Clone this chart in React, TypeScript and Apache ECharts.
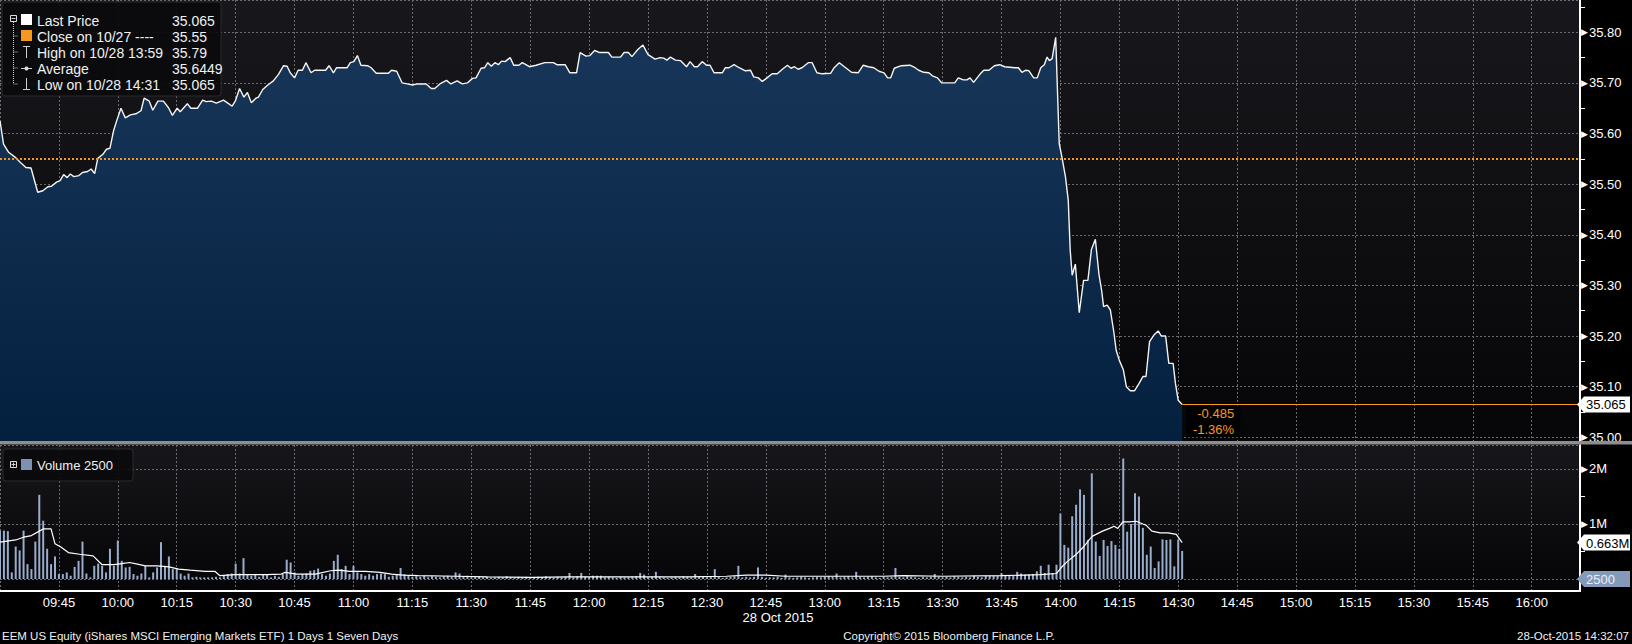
import React, { useEffect, useRef } from "react";
import * as echarts from "echarts";

// ---------- data (minutes after 09:30) ----------
const priceSeries: [number, number][] = [
  [0,35.625],[0.9,35.579],[2.2,35.563],[3.9,35.553],[5.2,35.543],[6.6,35.533],[7.9,35.532],[9.6,35.484],[10.9,35.487],[12.2,35.495],
  [13.1,35.496],[14.4,35.504],[15.3,35.507],[16.2,35.519],[17.1,35.513],[17.9,35.52],[18.8,35.515],[20.1,35.517],[21,35.523],[22.3,35.525],
  [23.2,35.53],[24.1,35.521],[24.9,35.551],[26.2,35.559],[27.1,35.569],[28,35.571],[28.9,35.605],[29.7,35.625],[30.8,35.65],[31.9,35.631],
  [33.2,35.637],[34.6,35.639],[35.9,35.645],[36.7,35.67],[38,35.664],[38.9,35.646],[40.2,35.664],[41.6,35.664],[42.9,35.651],[43.9,35.636],
  [45.1,35.65],[45.9,35.643],[47.7,35.659],[48.6,35.65],[50.3,35.65],[51.6,35.666],[52.5,35.663],[53.8,35.664],[55.1,35.66],[56.9,35.666],
  [58.2,35.659],[59.1,35.654],[59.9,35.664],[61,35.689],[62.1,35.672],[63,35.681],[64,35.661],[65.2,35.67],[65.8,35.672],[66.9,35.687],
  [68.2,35.696],[69.6,35.704],[70.9,35.717],[72.2,35.734],[73.1,35.733],[73.9,35.72],[75,35.71],[75.9,35.725],[77,35.725],[77.9,35.74],
  [79.2,35.72],[80.1,35.725],[81.8,35.725],[82.9,35.725],[83.8,35.734],[84.9,35.72],[85.7,35.73],[87.5,35.73],[88.4,35.73],[89.2,35.74],
  [90.1,35.742],[91,35.754],[91.9,35.735],[93.6,35.734],[94.5,35.73],[95.8,35.719],[97.1,35.719],[98.9,35.719],[99.7,35.725],[101,35.723],
  [102.4,35.7],[103.7,35.698],[105,35.696],[106.3,35.698],[108.5,35.698],[109.8,35.689],[110.7,35.689],[112,35.698],[113.7,35.705],[114.8,35.698],
  [116.4,35.704],[117.7,35.698],[119,35.7],[120.3,35.709],[121.2,35.71],[122.5,35.729],[123.4,35.73],[124.2,35.74],[125.1,35.733],[126,35.74],
  [126.9,35.736],[127.7,35.743],[128.6,35.742],[129.9,35.75],[130.8,35.735],[132.1,35.735],[133,35.74],[134.8,35.732],[136.5,35.735],[138.7,35.74],
  [140.9,35.74],[141.8,35.736],[143.9,35.736],[145.1,35.72],[146.8,35.72],[147.7,35.76],[149.2,35.753],[150.2,35.754],[151.4,35.764],[152.7,35.76],
  [154.9,35.76],[155.8,35.751],[158,35.751],[158.9,35.76],[160,35.76],[160.9,35.752],[162.4,35.766],[163.7,35.775],[165,35.756],[166.8,35.747],
  [168.1,35.75],[169,35.749],[169.8,35.745],[170.7,35.751],[172,35.745],[173.3,35.744],[174.8,35.732],[175.7,35.742],[176.8,35.732],[177.6,35.732],
  [178.8,35.742],[179.9,35.735],[180.8,35.735],[181.8,35.72],[183.9,35.72],[184.7,35.73],[185.6,35.73],[186.9,35.736],[188.2,35.73],[189.8,35.724],
  [191.1,35.725],[191.9,35.712],[193.1,35.71],[194.1,35.703],[195.3,35.71],[196.6,35.718],[197.9,35.718],[199.2,35.727],[200.5,35.735],[201.4,35.729],
  [202.3,35.732],[203.2,35.727],[204.2,35.73],[205.8,35.74],[206.8,35.74],[208,35.72],[209.3,35.718],[211.5,35.719],[212.4,35.73],[213.7,35.74],
  [215,35.732],[216.8,35.721],[218.5,35.72],[219.8,35.735],[221.1,35.732],[222.5,35.73],[223.8,35.723],[225.1,35.72],[226,35.71],[226.8,35.71],
  [227.7,35.729],[229.5,35.734],[231.7,35.735],[233,35.73],[233.9,35.725],[235.2,35.721],[236.5,35.72],[237.4,35.714],[238.7,35.71],[239.8,35.7],
  [243.1,35.7],[244,35.71],[245.3,35.706],[246.2,35.706],[247,35.71],[247.9,35.701],[249.6,35.718],[250.5,35.725],[251.8,35.725],[253.2,35.734],
  [254.5,35.736],[255.8,35.732],[258.4,35.73],[259.3,35.73],[260.2,35.721],[261.1,35.725],[262,35.724],[263.2,35.71],[264.1,35.71],[265,35.73],
  [265.9,35.736],[266.6,35.751],[267.2,35.744],[267.9,35.748],[268.8,35.79],[269.7,35.58],[270.4,35.553],[271.3,35.514],[272,35.468],[272.5,35.369],
  [273,35.32],[273.8,35.342],[274.8,35.246],[275.9,35.31],[277,35.31],[277.9,35.371],[278.9,35.391],[279.8,35.323],[280.5,35.29],[281,35.258],
  [281.9,35.261],[282.7,35.252],[283.6,35.208],[284.2,35.172],[285,35.152],[286,35.134],[286.8,35.1],[287.8,35.092],[288.9,35.092],[290,35.106],
  [291,35.12],[291.8,35.12],[292.7,35.189],[293.8,35.202],[294.9,35.21],[295.7,35.2],[296.8,35.2],[297.6,35.146],[298.7,35.146],[299.3,35.106],
  [300,35.073],[301,35.065],
];

// volume per minute, millions (index = minute after 09:30)
const volumeM: number[] = [
  0.88,0.88,0.87,0.12,0.59,0.52,0.88,0.27,0.18,0.68,
  1.53,1.06,0.55,0.27,0.41,0.09,0.09,0.12,0.06,0.22,
  0.33,0.68,0.10,0.03,0.24,0.28,0.24,0.12,0.55,0.24,
  0.70,0.33,0.21,0.22,0.09,0.06,0.10,0.24,0.03,0.12,
  0.21,0.67,0.24,0.41,0.18,0.18,0.10,0.06,0.10,0.03,
  0.04,0.03,0.03,0.03,0.03,0.04,0.03,0.06,0.09,0.10,
  0.28,0.10,0.38,0.09,0.06,0.08,0.04,0.09,0.08,0.03,
  0.06,0.04,0.09,0.35,0.30,0.12,0.06,0.09,0.10,0.15,
  0.16,0.19,0.09,0.06,0.10,0.33,0.44,0.18,0.24,0.09,
  0.24,0.12,0.09,0.06,0.09,0.06,0.09,0.10,0.09,0.04,
  0.06,0.08,0.20,0.09,0.06,0.04,0.05,0.04,0.06,0.03,
  0.05,0.04,0.03,0.05,0.06,0.04,0.12,0.10,0.05,0.06,
  0.03,0.04,0.05,0.03,0.04,0.02,0.03,0.04,0.03,0.05,
  0.03,0.02,0.04,0.03,0.04,0.03,0.02,0.04,0.03,0.05,
  0.03,0.02,0.04,0.03,0.04,0.11,0.03,0.05,0.11,0.04,
  0.03,0.06,0.06,0.06,0.03,0.04,0.03,0.02,0.04,0.03,
  0.03,0.04,0.05,0.11,0.08,0.03,0.04,0.13,0.04,0.03,
  0.02,0.03,0.04,0.03,0.05,0.04,0.03,0.09,0.05,0.04,
  0.03,0.04,0.18,0.04,0.02,0.03,0.04,0.05,0.24,0.03,
  0.04,0.03,0.04,0.21,0.04,0.02,0.03,0.03,0.04,0.02,
  0.08,0.03,0.02,0.03,0.04,0.03,0.02,0.03,0.04,0.03,
  0.04,0.05,0.04,0.10,0.03,0.04,0.05,0.03,0.13,0.04,
  0.03,0.04,0.05,0.03,0.02,0.04,0.03,0.04,0.20,0.04,
  0.03,0.05,0.04,0.03,0.02,0.04,0.03,0.04,0.09,0.04,
  0.03,0.04,0.03,0.05,0.04,0.03,0.04,0.03,0.06,0.04,
  0.03,0.06,0.06,0.06,0.06,0.11,0.06,0.06,0.06,0.13,
  0.10,0.08,0.08,0.09,0.14,0.24,0.11,0.26,0.11,0.26,
  1.19,0.62,0.57,1.14,1.35,1.63,1.53,0.71,1.92,0.68,
  0.42,0.71,0.60,0.69,0.62,0.55,2.19,0.86,1.00,1.56,
  1.50,0.93,0.44,0.59,0.20,0.32,0.72,0.71,0.72,0.23,
  0.72,0.51,
];

// volume moving average (minute, millions)
const volumeAvgM: [number, number][] = [
  [0,0.67],[4,0.71],[6,0.76],[8,0.79],[10,0.87],[11,0.91],[13,0.91],[14,0.64],[15.5,0.58],[17.4,0.48],
  [20.3,0.45],[23.7,0.42],[26,0.26],[29,0.26],[31,0.28],[33,0.3],[35,0.27],[37,0.24],[40,0.24],[43,0.22],
  [45.5,0.18],[48.4,0.16],[52.3,0.14],[54.7,0.14],[56,0.06],[60,0.08],[67.8,0.08],[71.6,0.09],[72.6,0.12],[75.5,0.09],
  [80.3,0.09],[84.2,0.15],[86.2,0.16],[89,0.14],[93,0.14],[96.8,0.12],[99.7,0.09],[102.6,0.07],[106.5,0.06],[116,0.05],
  [124,0.04],[135.5,0.03],[145,0.04],[160,0.04],[175,0.04],[185,0.05],[190,0.07],[195,0.07],[200,0.05],[215,0.05],
  [225,0.05],[230,0.06],[240,0.05],[255,0.06],[265,0.08],[269,0.1],[270.1,0.2],[271.8,0.32],[273.9,0.44],[276.1,0.6],
  [277.3,0.71],[278.2,0.78],[280.7,0.87],[282.5,0.92],[283.7,0.96],[284.6,0.92],[285.9,1.04],[287.6,1.04],[289.3,1.05],[291,1.0],
  [291.8,0.98],[293.3,0.87],[295.4,0.84],[297.4,0.84],[299.5,0.81],[301,0.663],
];

const closePrev = 35.55;
const lastPrice = 35.065;
const lastMinute = 301;
const lastVolumeAvg = 0.663;
const changeTexts = ["-0.485", "-1.36%"];

const legendRows = [
  { label: "Last Price", value: "35.065" },
  { label: "Close on 10/27 ----", value: "35.55" },
  { label: "High on 10/28 13:59", value: "35.79" },
  { label: "Average", value: "35.6449" },
  { label: "Low on 10/28 14:31", value: "35.065" },
];
const volumeLegend = "Volume 2500";
const footerLeft = "EEM US Equity (iShares MSCI Emerging Markets ETF) 1 Days 1 Seven Days";
const footerMid = "Copyright\u00A9 2015 Bloomberg Finance L.P.";
const footerRight = "28-Oct-2015 14:32:07";
const dateLabel = "28 Oct 2015";

// ---------- layout / style ----------
const W = 1632;
const H = 644;
const PLOT_W = 1580;
const X_MAX = 402.3;
const P_MIN = 34.9927;
const P_MAX = 35.8638;
const V_MIN = -0.218;
const V_MAX = 2.436;
const ORANGE = "#f4981f";
const FONT = '"Liberation Sans", Arial, Helvetica, sans-serif';
const GRID_LINE = { color: "#6a6a70", type: [2, 2] as number[], width: 1 };

const fmtTime = (m: number) => {
  const t = 9 * 60 + 30 + Math.round(m);
  const hh = String(Math.floor(t / 60)).padStart(2, "0");
  const mm = String(t % 60).padStart(2, "0");
  return `${hh}:${mm}`;
};

const axisRich = {
  t: { color: "#ffffff", fontSize: 9, padding: [0, 1, 0, 0], fontFamily: "DejaVu Sans" },
  v: { color: "#ffffff", fontSize: 13, fontFamily: FONT },
};

export default function App() {
  const ref = useRef<HTMLDivElement>(null);

  useEffect(() => {
    if (!ref.current) return;
    const chart = echarts.init(ref.current, null, { renderer: "svg", width: W, height: H });

    const option: any = {
      animation: false,
      backgroundColor: "#000000",
      grid: [
        { left: 0, top: 0, width: PLOT_W, height: 441 },
        { left: 0, top: 445, width: PLOT_W, height: 146 },
      ],
      xAxis: [
        {
          gridIndex: 0, type: "value", min: 0, max: X_MAX, interval: 15,
          axisLine: { show: false, onZero: false }, axisTick: { show: false }, axisLabel: { show: false },
          splitLine: { show: true, lineStyle: GRID_LINE },
        },
        {
          gridIndex: 1, type: "value", min: 0, max: X_MAX, interval: 15,
          axisLine: { show: true, onZero: false, lineStyle: { color: "#ffffff", width: 2 } },
          axisTick: { show: false },
          axisLabel: {
            color: "#ffffff", fontSize: 13, fontFamily: FONT, margin: 5,
            showMinLabel: false, showMaxLabel: false, formatter: fmtTime,
          },
          splitLine: { show: true, lineStyle: GRID_LINE },
        },
      ],
      yAxis: [
        {
          gridIndex: 0, type: "value", position: "right", min: P_MIN, max: P_MAX,
          splitNumber: 9, minInterval: 0.1, maxInterval: 0.1,
          axisLine: { show: true, onZero: false, lineStyle: { color: "#ffffff", width: 2 } },
          axisTick: { show: false },
          minorTick: { show: true, splitNumber: 2, length: 5, lineStyle: { color: "#ffffff", width: 1 } },
          axisLabel: {
            margin: 1, showMinLabel: false, showMaxLabel: false,
            formatter: (v: number) => `{t|\u25B6}{v|${v.toFixed(2)}}`, rich: axisRich,
          },
          splitLine: { show: true, lineStyle: GRID_LINE },
        },
        {
          gridIndex: 1, type: "value", position: "right", min: V_MIN, max: V_MAX,
          splitNumber: 2, minInterval: 1, maxInterval: 1,
          axisLine: { show: true, onZero: false, lineStyle: { color: "#ffffff", width: 2 } },
          axisTick: { show: false },
          minorTick: { show: true, splitNumber: 2, length: 5, lineStyle: { color: "#ffffff", width: 1 } },
          axisLabel: {
            margin: 1, showMinLabel: false, showMaxLabel: false,
            formatter: (v: number) => (Math.abs(v) < 1e-9 ? "" : `{t|\u25B6}{v|${Math.round(v)}M}`),
            rich: axisRich,
          },
          splitLine: { show: true, lineStyle: GRID_LINE },
        },
      ],
      series: [
        {
          type: "line", xAxisIndex: 0, yAxisIndex: 0, data: priceSeries,
          showSymbol: false, symbol: "none", z: 3,
          lineStyle: { color: "#f4f4f4", width: 1.4 },
          areaStyle: {
            origin: "start", opacity: 1,
            color: new echarts.graphic.LinearGradient(0, 0, 0, 1, [
              { offset: 0, color: "#173659" },
              { offset: 1, color: "#04203f" },
            ]),
          },
          markLine: {
            silent: true, symbol: ["none", "none"], label: { show: false },
            data: [
              { yAxis: closePrev, lineStyle: { color: ORANGE, type: [2, 2], width: 2 } },
              [
                { coord: [lastMinute, lastPrice], lineStyle: { color: ORANGE, type: "solid", width: 1 } },
                { coord: [X_MAX, lastPrice], lineStyle: { color: ORANGE, type: "solid", width: 1 } },
              ],
            ],
          },
        },
        {
          type: "bar", xAxisIndex: 1, yAxisIndex: 1, z: 2,
          data: volumeM.map((v, i) => [i, v]), barWidth: 2,
          itemStyle: { color: "#9aaccb" },
        },
        {
          type: "line", xAxisIndex: 1, yAxisIndex: 1, data: volumeAvgM, z: 3,
          showSymbol: false, symbol: "none",
          lineStyle: { color: "#ffffff", width: 1.2 },
        },
      ],
    };

    chart.setOption(option);

    const yLast = chart.convertToPixel({ yAxisIndex: 0 } as any, lastPrice) as number;
    const xLast = chart.convertToPixel({ xAxisIndex: 0 } as any, lastMinute) as number;
    const yAvg = chart.convertToPixel({ yAxisIndex: 1 } as any, lastVolumeAvg) as number;
    const yZero = chart.convertToPixel({ yAxisIndex: 1 } as any, 0) as number;
    const yP0 = chart.convertToPixel({ yAxisIndex: 0 } as any, 35.0) as number;

    const txt = (x: number, y: number, text: string, size: number, fill: string, align = "left", extra: any = {}) => ({
      type: "text", x, y, z: 110, silent: true,
      style: {
        text, fill, font: `${size}px ${FONT}`,
        textAlign: align, align, textVerticalAlign: "middle", verticalAlign: "middle",
      },
      ...extra,
    });

    const tag = (y: number, text: string, fill: string, color: string) => ({
      type: "group", z: 110, silent: true,
      children: [
        {
          type: "polygon", z: 110,
          shape: { points: [[1577, y], [1584, y - 8], [1630, y - 8], [1630, y + 8], [1584, y + 8]] },
          style: { fill },
        },
        txt(1586, y + 0.5, text, 13, color),
      ],
    });

    const rowY = [20, 36, 52, 68, 84];
    const lineStyle = { stroke: "#cfcfcf", lineWidth: 1 };

    const graphics: any[] = [
      // panel backgrounds
      {
        type: "rect", z: -10, silent: true, shape: { x: 0, y: 0, width: PLOT_W, height: 441 },
        style: {
          fill: new echarts.graphic.LinearGradient(0, 0, 0, 1, [
            { offset: 0, color: "#18181c" }, { offset: 1, color: "#060608" },
          ]),
        },
      },
      {
        type: "rect", z: -10, silent: true, shape: { x: 0, y: 445, width: PLOT_W, height: 146 },
        style: {
          fill: new echarts.graphic.LinearGradient(0, 0, 0, 1, [
            { offset: 0, color: "#17171b" }, { offset: 1, color: "#050507" },
          ]),
        },
      },
      // separator
      { type: "rect", z: 100, silent: true, shape: { x: 0, y: 441, width: W, height: 3.5 }, style: { fill: "#8e8e8e" } },
      // change box
      { type: "rect", z: 105, silent: true, shape: { x: xLast + 4, y: yLast + 1, width: 54, height: yP0 - yLast - 1 }, style: { fill: "#000000" } },
      txt(xLast + 52, yLast + 9, changeTexts[0], 13, ORANGE, "right"),
      txt(xLast + 52, yLast + 25, changeTexts[1], 13, ORANGE, "right"),
      // tags
      tag(yLast, String(lastPrice), "#ffffff", "#000000"),
      tag(yAvg, `${lastVolumeAvg}M`, "#ffffff", "#000000"),
      tag(yZero, "2500", "#8599b9", "#e8eef8"),
      // main legend box
      { type: "rect", z: 100, silent: true, shape: { x: 2, y: 2, width: 219, height: 94, r: 3 }, style: { fill: "rgba(10,10,12,0.9)", stroke: "#2a2a2f", lineWidth: 1 } },
      { type: "rect", z: 110, silent: true, shape: { x: 10.5, y: 15.5, width: 6, height: 6 }, style: { fill: "none", stroke: "#dddddd", lineWidth: 1 } },
      { type: "line", z: 110, silent: true, shape: { x1: 11.5, y1: 18.5, x2: 15.5, y2: 18.5 }, style: lineStyle },
      { type: "line", z: 110, silent: true, shape: { x1: 13.5, y1: 22, x2: 13.5, y2: 84 }, style: { ...lineStyle, lineDash: [1, 1] } },
      ...rowY.slice(1).map((y) => ({ type: "line", z: 110, silent: true, shape: { x1: 13.5, y1: y, x2: 18, y2: y }, style: { ...lineStyle, lineDash: [1, 1] } })),
      { type: "rect", z: 110, silent: true, shape: { x: 21, y: 14, width: 11, height: 11 }, style: { fill: "#ffffff" } },
      { type: "rect", z: 110, silent: true, shape: { x: 21, y: 30, width: 11, height: 11 }, style: { fill: ORANGE } },
      { type: "line", z: 110, silent: true, shape: { x1: 26.5, y1: 46, x2: 26.5, y2: 58 }, style: lineStyle },
      { type: "line", z: 110, silent: true, shape: { x1: 23, y1: 46.5, x2: 30, y2: 46.5 }, style: lineStyle },
      { type: "line", z: 110, silent: true, shape: { x1: 21, y1: 68.5, x2: 32, y2: 68.5 }, style: lineStyle },
      { type: "circle", z: 110, silent: true, shape: { cx: 26.5, cy: 68.5, r: 2 }, style: { fill: "#dddddd" } },
      { type: "line", z: 110, silent: true, shape: { x1: 26.5, y1: 78, x2: 26.5, y2: 90 }, style: lineStyle },
      { type: "line", z: 110, silent: true, shape: { x1: 23, y1: 89.5, x2: 30, y2: 89.5 }, style: lineStyle },
      ...legendRows.map((r, i) => txt(37, rowY[i] + 0.5, r.label, 14, "#f0f0f0")),
      ...legendRows.map((r, i) => txt(172, rowY[i] + 0.5, r.value, 14, "#f0f0f0")),
      // volume legend
      { type: "rect", z: 100, silent: true, shape: { x: 3, y: 449, width: 130, height: 32, r: 3 }, style: { fill: "rgba(10,10,12,0.9)", stroke: "#2a2a2f", lineWidth: 1 } },
      { type: "rect", z: 110, silent: true, shape: { x: 10.5, y: 461.5, width: 6, height: 6 }, style: { fill: "none", stroke: "#dddddd", lineWidth: 1 } },
      { type: "line", z: 110, silent: true, shape: { x1: 11.5, y1: 464.5, x2: 15.5, y2: 464.5 }, style: lineStyle },
      { type: "line", z: 110, silent: true, shape: { x1: 13.5, y1: 462.5, x2: 13.5, y2: 466.5 }, style: lineStyle },
      { type: "rect", z: 110, silent: true, shape: { x: 21, y: 459, width: 11, height: 11 }, style: { fill: "#7d92b2" } },
      txt(37, 465, volumeLegend, 13, "#f0f0f0"),
      // footer
      txt(778, 617, dateLabel, 13, "#ffffff", "center"),
      txt(2, 636, footerLeft, 11.5, "#f0f0f0"),
      txt(949, 636, footerMid, 11.5, "#f0f0f0", "center"),
      txt(1629, 636, footerRight, 11.5, "#f0f0f0", "right"),
    ];

    chart.setOption({ graphic: graphics });

    return () => chart.dispose();
  }, []);

  return (
    <div
      ref={ref}
      style={{ position: "fixed", left: 0, top: 0, width: W, height: H, background: "#000" }}
    />
  );
}
